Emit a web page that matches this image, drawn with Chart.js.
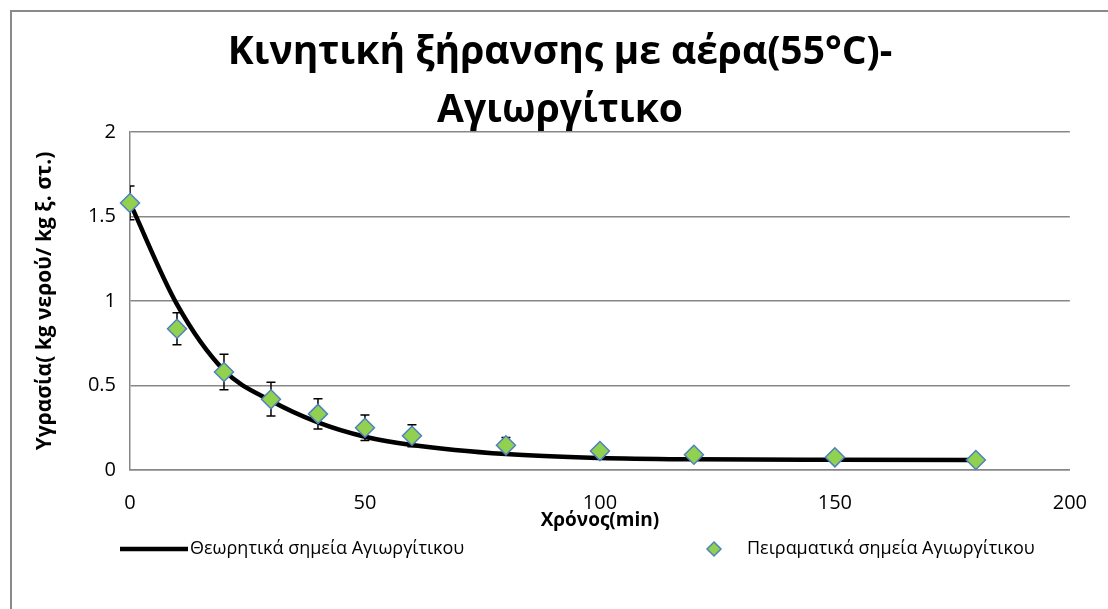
<!DOCTYPE html>
<html>
<head>
<meta charset="utf-8">
<script src="https://cdn.jsdelivr.net/npm/chart.js@4.4.0/dist/chart.umd.min.js"></script>
<style>
  html, body { margin: 0; padding: 0; background: #ffffff; }
  #wrap { width: 1108px; height: 609px; }
</style>
</head>
<body>
<div id="wrap"><canvas id="chart" width="1108" height="609"></canvas></div>
<script>
// Drying time (min)
const timeMin = [0, 10, 20, 30, 40, 50, 60, 80, 100, 120, 150, 180];
// Model curve, moisture (kg water / kg dry solid)
const moistureModel = [1.58, 0.98, 0.59, 0.41, 0.282, 0.197, 0.148, 0.094, 0.071, 0.063, 0.060, 0.059];
// Measured moisture and its standard deviation
const moistureMeasured = [1.58, 0.836, 0.58, 0.419, 0.332, 0.25, 0.203, 0.146, 0.112, 0.09, 0.075, 0.059];
const moistureSd = [0.10, 0.095, 0.105, 0.10, 0.09, 0.075, 0.065, 0.047, 0.03, 0.02, 0.015, 0.01];

const xTickValues = [0, 50, 100, 150, 200];
const xTickLabels = ['0', '50', '100', '150', '200'];
const yTickValues = [0, 0.5, 1, 1.5, 2];
const yTickLabels = ['0', '0.5', '1', '1.5', '2'];

const titleLines = ['Κινητική ξήρανσης με αέρα(55°C)-', 'Αγιωργίτικο'];
const xTitle = 'Χρόνος(min)';
const yTitle = 'Υγρασία( kg νερού/ kg ξ. στ.)';
const seriesNames = ['Θεωρητικά σημεία Αγιωργίτικου', 'Πειραματικά σημεία Αγιωργίτικου'];

const FONT = "'Open Sans', 'Noto Sans', sans-serif";
const GRID = '#878787';

// Outer frame of the chart
const frame = {
  id: 'frame',
  beforeDraw(chart) {
    const ctx = chart.ctx;
    ctx.save();
    ctx.fillStyle = '#ffffff';
    ctx.fillRect(0, 0, chart.width, chart.height);
    ctx.strokeStyle = '#8a8a8a';
    ctx.lineWidth = 2;
    ctx.strokeRect(11, 11, chart.width + 20, chart.height + 20);
    ctx.restore();
  }
};

// Vertical error bars with caps, clipped to the plot area
const errorBars = {
  id: 'errorBars',
  beforeDatasetsDraw(chart) {
    const { ctx, chartArea, scales: { x, y } } = chart;
    ctx.save();
    ctx.beginPath();
    ctx.rect(chartArea.left, chartArea.top, chartArea.right - chartArea.left, chartArea.bottom - chartArea.top);
    ctx.clip();
    ctx.strokeStyle = '#000000';
    ctx.lineWidth = 1.5;
    const cap = 4.5;
    timeMin.forEach((t, i) => {
      const px = x.getPixelForValue(t);
      const hi = y.getPixelForValue(moistureMeasured[i] + moistureSd[i]);
      const lo = y.getPixelForValue(moistureMeasured[i] - moistureSd[i]);
      ctx.beginPath();
      ctx.moveTo(px, hi); ctx.lineTo(px, lo);
      ctx.moveTo(px - cap, hi); ctx.lineTo(px + cap, hi);
      ctx.moveTo(px - cap, lo); ctx.lineTo(px + cap, lo);
      ctx.stroke();
    });
    ctx.restore();
  }
};

// Legend row under the x-axis title
const legendRow = {
  id: 'legendRow',
  afterDraw(chart) {
    const ctx = chart.ctx;
    const ds = chart.data.datasets;
    const cy = 549;
    ctx.save();
    ctx.font = `18px ${FONT}`;
    ctx.fillStyle = '#000000';
    ctx.textBaseline = 'middle';
    ctx.textAlign = 'left';
    // model series: line sample
    ctx.strokeStyle = ds[0].borderColor;
    ctx.lineWidth = ds[0].borderWidth;
    ctx.beginPath();
    ctx.moveTo(120, cy); ctx.lineTo(188, cy);
    ctx.stroke();
    ctx.fillText(ds[0].label, 190, cy);
    // measured series: diamond sample
    ctx.fillStyle = ds[1].pointBackgroundColor;
    ctx.strokeStyle = ds[1].pointBorderColor;
    ctx.lineWidth = 1.5;
    ctx.beginPath();
    ctx.moveTo(714, cy - 7); ctx.lineTo(721, cy); ctx.lineTo(714, cy + 7); ctx.lineTo(707, cy);
    ctx.closePath();
    ctx.fill(); ctx.stroke();
    ctx.fillStyle = '#000000';
    ctx.fillText(ds[1].label, 747, cy);
    ctx.restore();
  }
};

new Chart(document.getElementById('chart').getContext('2d'), {
  type: 'scatter',
  data: {
    datasets: [
      {
        label: seriesNames[0],
        type: 'line',
        data: timeMin.map((t, i) => ({ x: t, y: moistureModel[i] })),
        borderColor: '#000000',
        borderWidth: 4.5,
        pointRadius: 0,
        showLine: true,
        fill: false,
        cubicInterpolationMode: 'monotone',
        order: 2
      },
      {
        label: seriesNames[1],
        data: timeMin.map((t, i) => ({ x: t, y: moistureMeasured[i] })),
        pointStyle: 'rectRot',
        pointRadius: 9.5,
        pointBackgroundColor: '#92D050',
        pointBorderColor: '#4F81BD',
        pointBorderWidth: 1.5,
        showLine: false,
        clip: false,
        order: 1
      }
    ]
  },
  options: {
    responsive: false,
    animation: false,
    events: [],
    layout: { padding: { left: 48, right: 36, top: 0, bottom: 74 } },
    plugins: {
      legend: { display: false },
      tooltip: { enabled: false },
      title: {
        display: true,
        text: titleLines,
        color: '#000000',
        font: { family: FONT, size: 39, weight: 'bold', lineHeight: 1.487 },
        padding: { top: 24, bottom: -8 }
      }
    },
    scales: {
      x: {
        type: 'linear',
        min: 0, max: 200,
        afterBuildTicks: s => { s.ticks = xTickValues.map(v => ({ value: v })); },
        grid: { display: false, drawTicks: false },
        border: { display: true, color: GRID, width: 1.5 },
        ticks: {
          padding: 21, color: '#000000', font: { family: FONT, size: 20 },
          callback: (v) => xTickLabels[xTickValues.indexOf(v)]
        },
        title: {
          display: true, text: xTitle, color: '#000000',
          font: { family: FONT, size: 19, weight: 'bold' },
          padding: { top: 0, bottom: 3 }
        },
        afterFit: s => { s.height = 65; }
      },
      y: {
        type: 'linear',
        min: 0, max: 2,
        afterBuildTicks: s => { s.ticks = yTickValues.map(v => ({ value: v })); },
        grid: { color: GRID, lineWidth: 1.5, drawTicks: false },
        border: { display: true, color: GRID, width: 1.5 },
        ticks: {
          padding: 14, color: '#000000', font: { family: FONT, size: 20 },
          callback: (v) => yTickLabels[yTickValues.indexOf(v)]
        },
        title: {
          display: true, text: yTitle, color: '#000000',
          font: { family: FONT, size: 21, weight: 'bold', lineHeight: 1.2 },
          padding: { top: -15.6, bottom: 0 }
        },
        afterFit: s => { s.width = 82; }
      }
    }
  },
  plugins: [frame, errorBars, legendRow]
});
</script>
</body>
</html>
